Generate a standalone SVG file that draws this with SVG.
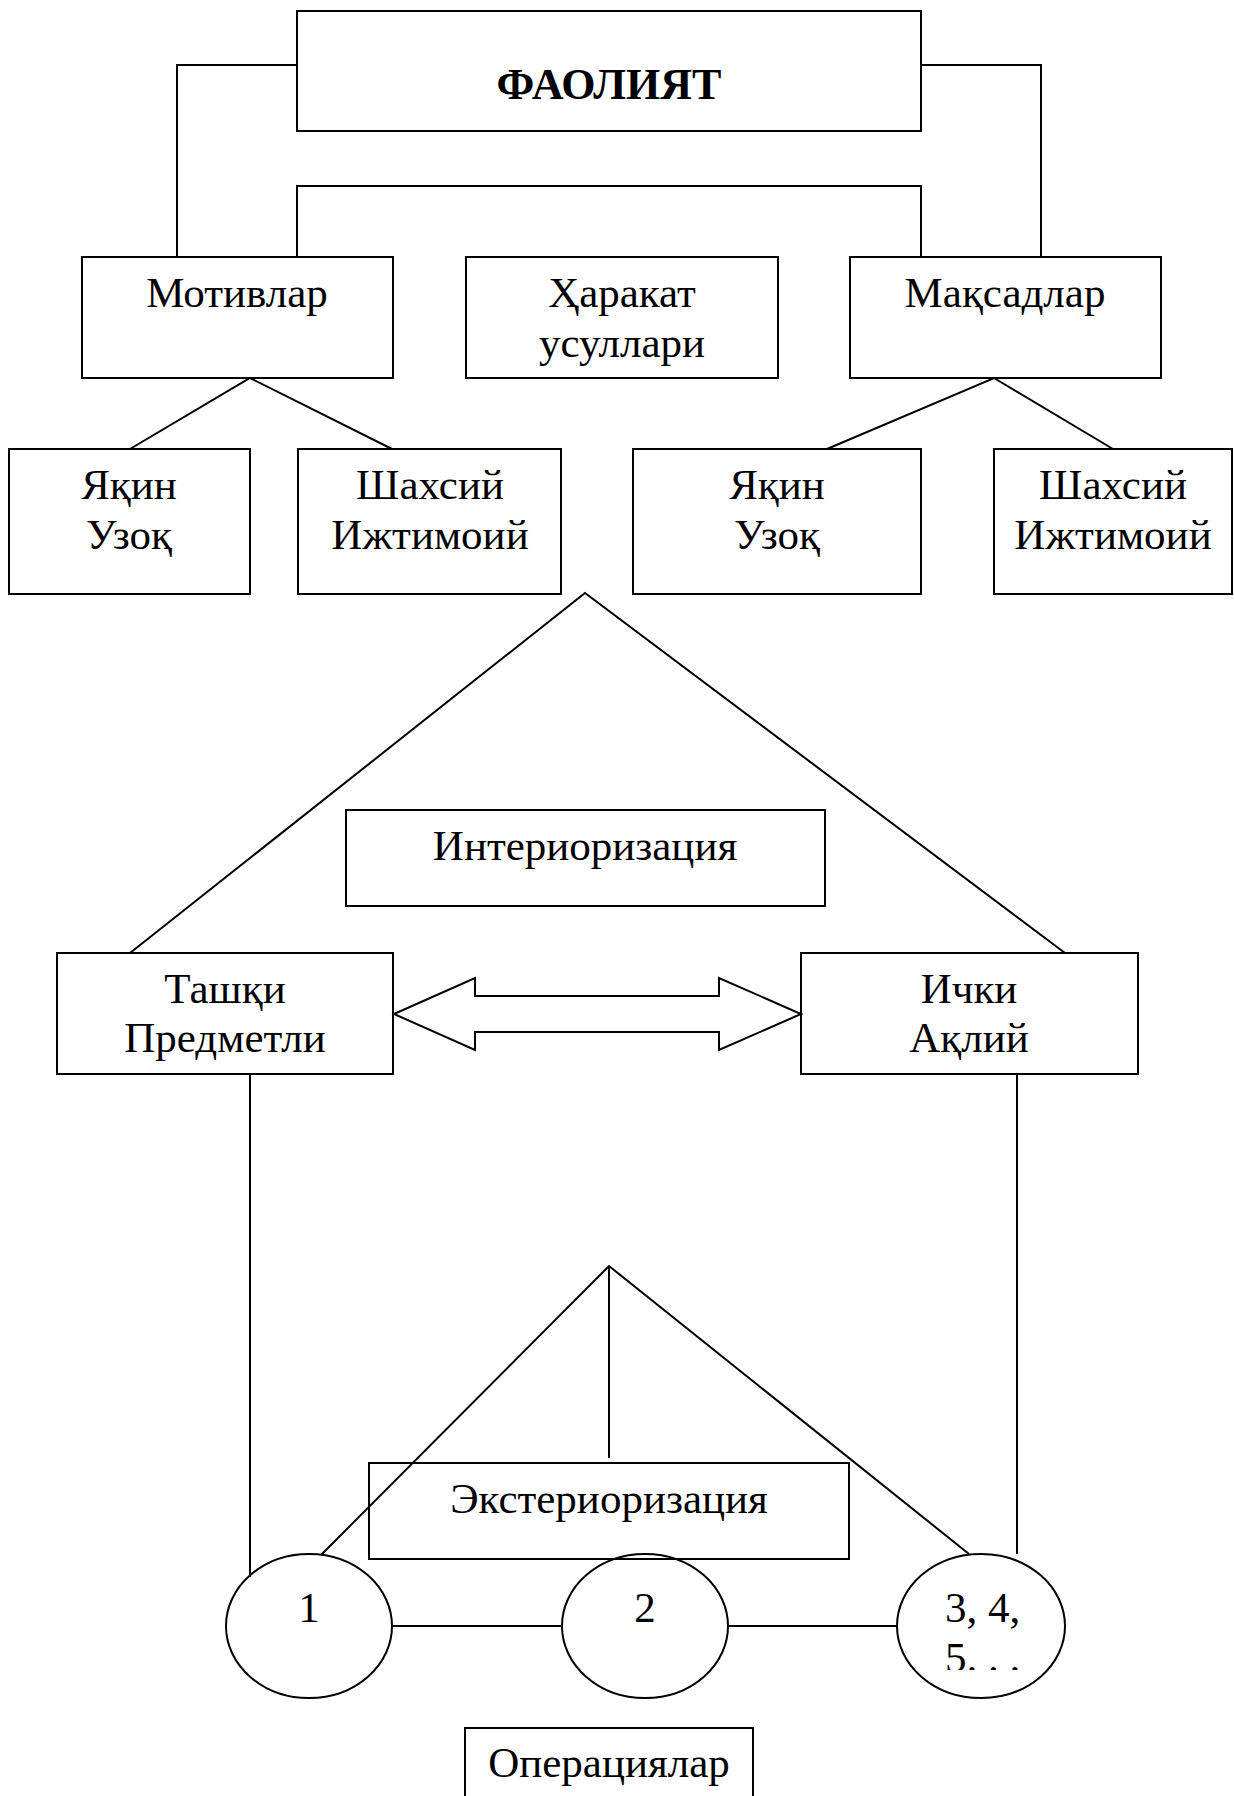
<svg xmlns="http://www.w3.org/2000/svg" width="1234" height="1796" viewBox="0 0 1234 1796">
<style>
.box{fill:none;stroke:#000;stroke-width:2}
.ln{fill:none;stroke:#000;stroke-width:2}
.t{font-family:"Liberation Serif","Times New Roman",serif;font-size:43px;fill:#000;text-anchor:middle}
.b{font-weight:bold;font-size:44px}
.l{text-anchor:start}
</style>
<defs>
<clipPath id="clip3"><rect x="890" y="1560" width="180" height="110"/></clipPath>
</defs>
<rect width="1234" height="1796" fill="#fff"/>
<g id="connectors">
<polyline class="ln" points="297,65 177,65 177,257"/>
<polyline class="ln" points="921,65 1041,65 1041,257"/>
<polyline class="ln" points="297,257 297,186 921,186 921,257"/>
<polyline class="ln" points="130,449 250,378 392,449"/>
<polyline class="ln" points="827,449 994,378 1113,449"/>
<polyline class="ln" points="130,953 585,593 1065,953"/>
<line class="ln" x1="250" y1="1074" x2="250" y2="1577"/>
<line class="ln" x1="1017" y1="1074" x2="1017" y2="1554"/>
<polyline class="ln" points="321,1555 609,1266 969,1554"/>
<line class="ln" x1="609" y1="1266" x2="609" y2="1458"/>
<line class="ln" x1="392" y1="1626" x2="562" y2="1626"/>
<line class="ln" x1="728" y1="1626" x2="898" y2="1626"/>
<polygon id="double-arrow" class="ln" points="394,1014 475,978 475,996 719,996 719,978 801,1014 719,1050 719,1032 475,1032 475,1050"/>
</g>
<g id="faoliyat"><rect class="box" x="297" y="11" width="624" height="120"/><text class="t b" x="609" y="99">ФАОЛИЯТ</text></g>
<g id="motivlar"><rect class="box" x="82" y="257" width="311" height="121"/><text class="t" x="237" y="307">Мотивлар</text></g>
<g id="harakat"><rect class="box" x="466" y="257" width="312" height="121"/><text class="t" x="622" y="307">Ҳаракат</text><text class="t" x="622" y="357">усуллари</text></g>
<g id="maqsadlar"><rect class="box" x="850" y="257" width="311" height="121"/><text class="t" x="1005" y="307">Мақсадлар</text></g>
<g id="yaqin1"><rect class="box" x="9" y="449" width="241" height="145"/><text class="t" x="129" y="499">Яқин</text><text class="t" x="129" y="549">Узоқ</text></g>
<g id="shaxsiy1"><rect class="box" x="298" y="449" width="263" height="145"/><text class="t" x="430" y="499">Шахсий</text><text class="t" x="430" y="549">Ижтимоий</text></g>
<g id="yaqin2"><rect class="box" x="633" y="449" width="288" height="145"/><text class="t" x="777" y="499">Яқин</text><text class="t" x="777" y="549">Узоқ</text></g>
<g id="shaxsiy2"><rect class="box" x="994" y="449" width="238" height="145"/><text class="t" x="1113" y="499">Шахсий</text><text class="t" x="1113" y="549">Ижтимоий</text></g>
<g id="interiorizatsiya"><rect class="box" x="346" y="810" width="479" height="96"/><text class="t" x="585" y="860">Интериоризация</text></g>
<g id="tashqi"><rect class="box" x="57" y="953" width="336" height="121"/><text class="t" x="225" y="1003">Ташқи</text><text class="t" x="225" y="1052">Предметли</text></g>
<g id="ichki"><rect class="box" x="801" y="953" width="337" height="121"/><text class="t" x="969" y="1003">Ички</text><text class="t" x="969" y="1052">Ақлий</text></g>
<g id="eksteriorizatsiya"><rect class="box" x="369" y="1463" width="480" height="96"/><text class="t" x="609" y="1513">Экстериоризация</text></g>
<g id="op1"><ellipse class="box" cx="309" cy="1626" rx="83" ry="72"/><text class="t" x="309" y="1622">1</text></g>
<g id="op2"><ellipse class="box" cx="645" cy="1626" rx="83" ry="72"/><text class="t" x="645" y="1622">2</text></g>
<g id="op3"><ellipse class="box" cx="981" cy="1626" rx="84" ry="72"/><text class="t l" x="945" y="1622">3, 4,</text><text class="t l" x="945" y="1672" clip-path="url(#clip3)">5. . .</text></g>
<g id="operatsiyalar"><rect class="box" x="465" y="1728" width="288" height="90"/><text class="t" x="609" y="1777">Операциялар</text></g>
</svg>
